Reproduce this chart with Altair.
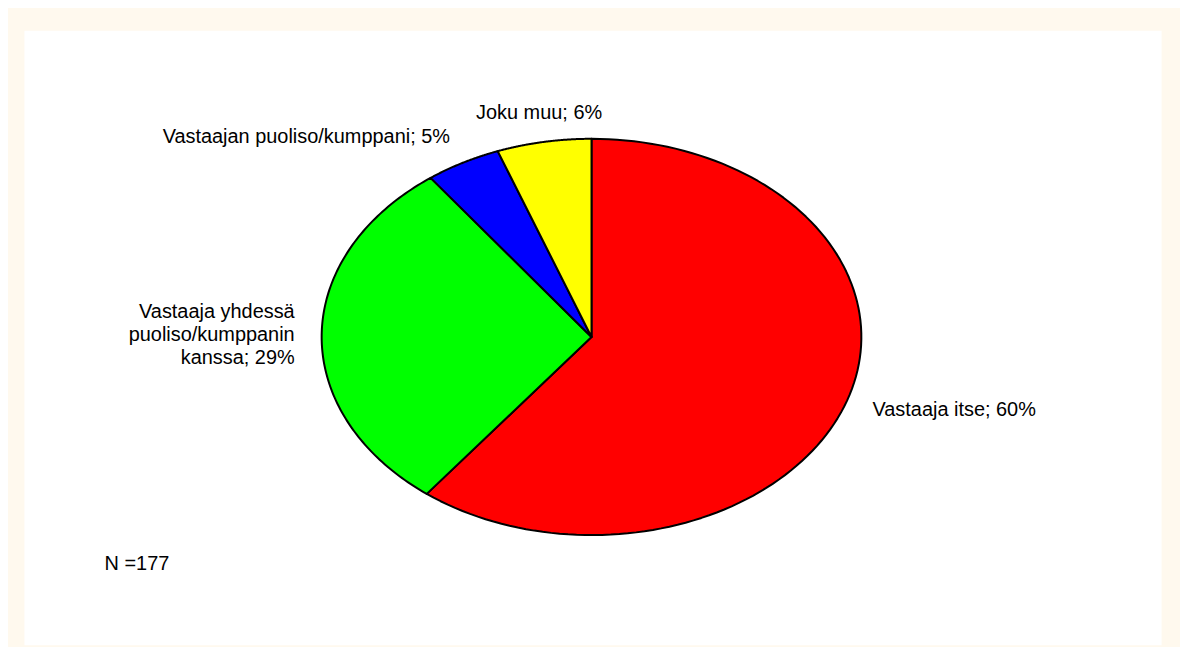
import altair as alt
import pandas as pd

# ---- data (N = 177 respondents) ----
categories = [
    "Vastaaja itse",
    "Vastaaja yhdessä puoliso/kumppanin kanssa",
    "Vastaajan puoliso/kumppani",
    "Joku muu",
]
counts = [107, 52, 8, 10]
labels = [
    "Vastaaja itse; 60%",
    "Vastaaja yhdessä\npuoliso/kumppanin\nkanssa; 29%",
    "Vastaajan puoliso/kumppani; 5%",
    "Joku muu; 6%",
]
colors = ["#FF0000", "#00FF00", "#0000FF", "#FFFF00"]
note = "N =177"

df = pd.DataFrame({
    "category": categories,
    "value": counts,
    "label": labels,
    "order": list(range(len(categories))),
})

# ---- layout ----
W, H = 1142, 617
XDOM = [-2.1033, 2.1107]
YDOM = [-1.5528, 1.5477]
FONT = "Liberation Sans"
FS = 20
NPTS = 120

xs = alt.Scale(domain=XDOM, nice=False, zero=False)
ys = alt.Scale(domain=YDOM, nice=False, zero=False)

base = (
    alt.Chart(df)
    .transform_joinaggregate(total="sum(value)")
    .transform_window(cum="sum(value)", sort=[alt.SortField("order")])
    .transform_calculate(
        a0="2*PI*(datum.cum - datum.value)/datum.total",
        a1="2*PI*datum.cum/datum.total",
    )
)

slices = (
    base.transform_calculate(k=f"sequence(0, {NPTS + 2})")
    .transform_flatten(["k"])
    .transform_calculate(ang=f"datum.a0 + (datum.a1 - datum.a0)*(datum.k - 1)/{NPTS}")
    .transform_calculate(
        px="datum.k == 0 ? 0 : sin(datum.ang)",
        py="datum.k == 0 ? 0 : cos(datum.ang)",
    )
    .mark_line(interpolate="linear-closed", stroke="black", strokeWidth=2, strokeJoin="round")
    .encode(
        x=alt.X("px:Q", scale=xs, axis=None),
        y=alt.Y("py:Q", scale=ys, axis=None),
        fill=alt.Fill("category:N", scale=alt.Scale(domain=categories, range=colors), legend=None),
        order=alt.Order("k:Q"),
    )
)

lab = base.transform_calculate(amid="(datum.a0 + datum.a1)/2").transform_calculate(
    lx="1.1*sin(datum.amid)",
    ly="1.15*cos(datum.amid) + (length(split(datum.label, '\\n')) - 1)*0.0578",
    side="sin(datum.amid) > 0.3 ? 'left' : (sin(datum.amid) < -0.3 ? 'right' : 'center')",
)

texts = []
for al in ["left", "right", "center"]:
    texts.append(
        lab.transform_filter(f"datum.side == '{al}'")
        .mark_text(align=al, baseline="middle", font=FONT, fontSize=FS,
                   lineBreak="\n", lineHeight=23, color="black")
        .encode(
            x=alt.X("lx:Q", scale=xs, axis=None),
            y=alt.Y("ly:Q", scale=ys, axis=None),
            text="label:N",
        )
    )

note_layer = (
    alt.Chart(pd.DataFrame({"note": [note]}))
    .mark_text(align="left", baseline="middle", font=FONT, fontSize=FS, color="black")
    .encode(x=alt.value(81), y=alt.value(536), text="note:N")
)

chart = (
    alt.layer(slices, *texts, note_layer)
    .properties(
        width=W,
        height=H,
        autosize=alt.AutoSizeParams(type="none"),
        padding={"left": 16, "top": 21, "right": 19, "bottom": 3},
        background="#FFF9EE",
    )
    .configure_view(fill="white", stroke="transparent")
)

chart.save("out.html", embed_options={"renderer": "svg", "actions": False})
